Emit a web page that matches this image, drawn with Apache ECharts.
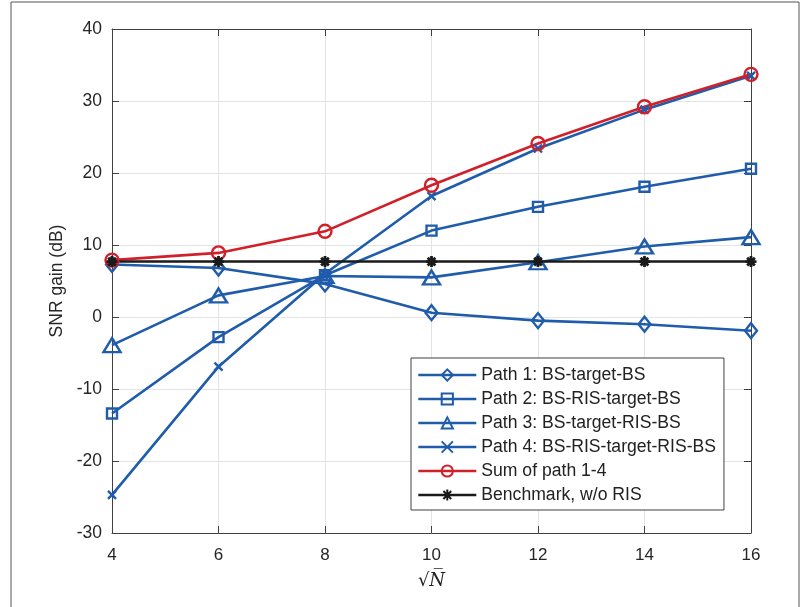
<!DOCTYPE html>
<html>
<head>
<meta charset="utf-8">
<script src="https://cdn.jsdelivr.net/npm/echarts@6/dist/echarts.min.js"></script>
<style>
  html, body { margin: 0; padding: 0; background: #fff; }
  #chart { width: 809px; height: 607px; }
</style>
</head>
<body>
<div id="chart"></div>
<script>
// x 轴: sqrt(N)
const sqrtN = [4, 6, 8, 10, 12, 14, 16];
const path1 = [7.3, 6.8, 4.6, 0.6, -0.5, -1.0, -1.9];
const path2 = [-13.4, -2.8, 5.8, 12.0, 15.3, 18.1, 20.6];
const path3 = [-3.9, 3.0, 5.7, 5.5, 7.6, 9.8, 11.1];
const path4 = [-24.7, -6.9, 6.0, 16.8, 23.4, 28.8, 33.5];
const sumPath = [7.9, 8.9, 11.9, 18.3, 24.1, 29.2, 33.7];
const benchmark = [7.7, 7.7, 7.7, 7.7, 7.7, 7.7, 7.7];
const seriesNames = [
  'Path 1: BS-target-BS',
  'Path 2: BS-RIS-target-BS',
  'Path 3: BS-target-RIS-BS',
  'Path 4: BS-RIS-target-RIS-BS',
  'Sum of path 1-4',
  'Benchmark, w/o RIS'
];

const blue = '#1f5cab';
const red = '#d0202a';
const black = '#1a1a1a';
const axisGray = '#404040';
const font = 'Liberation Sans, Arial, sans-serif';

function pairs(ys) {
  return sqrtN.map((x, i) => [x, ys[i]]);
}

function makeSeries(name, ys, color, symbol, size) {
  return {
    name: name,
    type: 'line',
    data: pairs(ys),
    symbol: symbol,
    symbolSize: size,
    showAllSymbol: true,
    lineStyle: { color: color, width: 2.6 },
    itemStyle: { color: 'rgba(0,0,0,0)', borderColor: color, borderWidth: 2.4 },
    emphasis: { disabled: true },
    animation: false
  };
}

function render() {
  const chart = echarts.init(document.getElementById('chart'), null, { width: 809, height: 607 });
  const xMark = 'path://M0,0L10,10M10,0L0,10';
  const star = 'path://M5,0L5,10M0,5L10,5M1.5,1.5L8.5,8.5M8.5,1.5L1.5,8.5';

  const series = [
    makeSeries(seriesNames[0], path1, blue, 'diamond', [12, 15]),
    makeSeries(seriesNames[1], path2, blue, 'rect', 10),
    makeSeries(seriesNames[2], path3, blue, 'triangle', [17, 14]),
    makeSeries(seriesNames[3], path4, blue, xMark, 8),
    makeSeries(seriesNames[4], sumPath, red, 'circle', 13),
    makeSeries(seriesNames[5], benchmark, black, star, 11)
  ];
  // 星号填满
  series[5].itemStyle = { color: black, borderColor: black, borderWidth: 2.8 };

  chart.setOption({
    animation: false,
    textStyle: { fontFamily: font },
    graphic: [{
      type: 'rect',
      shape: { x: 11, y: 2, width: 788, height: 640 },
      style: { fill: 'none', stroke: '#555', lineWidth: 1 },
      silent: true
    }],
    grid: { left: 112, right: 58, top: 29, bottom: 74, show: false },
    legend: {
      orient: 'vertical',
      left: 411,
      top: 358,
      data: seriesNames,
      itemWidth: 58,
      itemHeight: 14,
      itemGap: 6,
      padding: [8, 8, 6, 6],
      backgroundColor: '#fff',
      borderColor: axisGray,
      borderWidth: 1,
      borderRadius: 0,
      lineStyle: { width: 2.6 },
      textStyle: { fontFamily: font, fontSize: 17.6, color: '#222', lineHeight: 14 }
    },
    xAxis: [{
      type: 'value',
      min: 4, max: 16, interval: 2,
      name: '{r|√}{n|N\u0305}',
      nameLocation: 'middle',
      nameGap: 39,
      nameTextStyle: {
        rich: {
          r: { fontFamily: 'DejaVu Serif', fontSize: 18, color: '#222' },
          n: { fontFamily: 'DejaVu Serif', fontStyle: 'italic', fontSize: 18, color: '#222' }
        }
      },
      axisLine: { onZero: false, lineStyle: { color: axisGray, width: 1 } },
      axisTick: { inside: true, length: 7, lineStyle: { color: axisGray } },
      axisLabel: { fontSize: 17, color: '#262626', margin: 14 },
      splitLine: { show: true, lineStyle: { color: '#e3e3e3', width: 1 } }
    }, {
      type: 'value', position: 'top',
      min: 4, max: 16, interval: 2,
      axisLine: { onZero: false, lineStyle: { color: axisGray, width: 1 } },
      axisTick: { inside: true, length: 7, lineStyle: { color: axisGray } },
      axisLabel: { show: false },
      splitLine: { show: false }
    }],
    yAxis: [{
      type: 'value',
      min: -30, max: 40, interval: 10,
      name: 'SNR gain (dB)',
      nameLocation: 'middle',
      nameGap: 42,
      nameTextStyle: { fontSize: 17.5, color: '#262626' },
      axisLine: { show: true, onZero: false, lineStyle: { color: axisGray, width: 1 } },
      axisTick: { show: true, inside: true, length: 7, lineStyle: { color: axisGray } },
      axisLabel: { fontSize: 17.5, color: '#262626', margin: 10 },
      splitLine: { show: true, lineStyle: { color: '#e3e3e3', width: 1 } }
    }, {
      type: 'value', position: 'right',
      min: -30, max: 40, interval: 10,
      axisLine: { show: true, onZero: false, lineStyle: { color: axisGray, width: 1 } },
      axisTick: { show: true, inside: true, length: 7, lineStyle: { color: axisGray } },
      axisLabel: { show: false },
      splitLine: { show: false }
    }],
    series: series
  });
}

render();
</script>
</body>
</html>
